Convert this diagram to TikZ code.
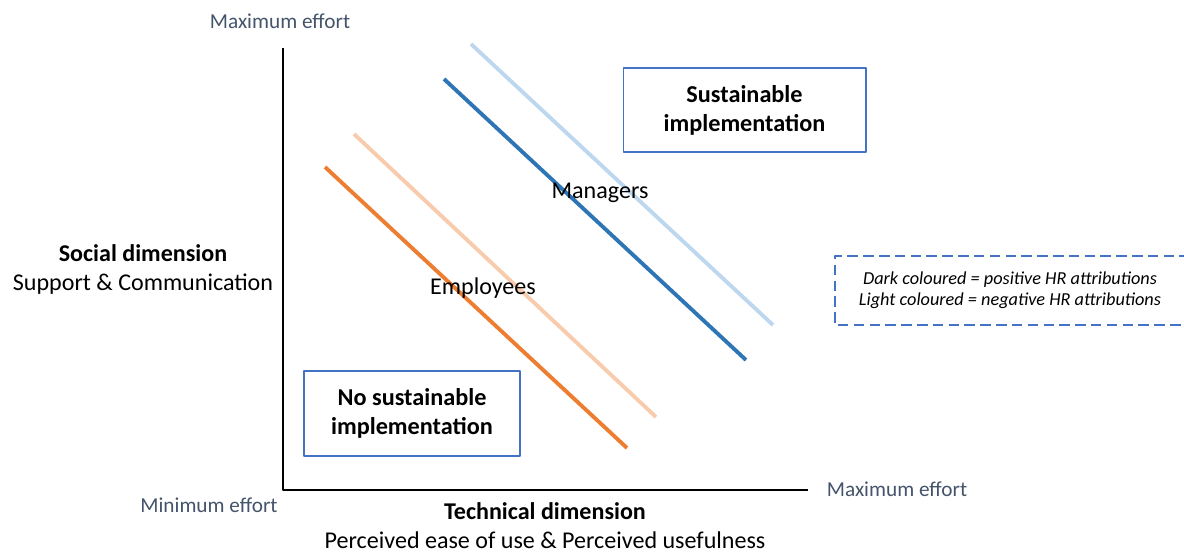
\documentclass[tikz,border=0pt]{standalone}
\usepackage{fontspec}
\setmainfont{Carlito}
\usepackage{xcolor}
\definecolor{mgrdark}{HTML}{2E75B6}
\definecolor{mgrlight}{HTML}{BDD7EE}
\definecolor{empdark}{HTML}{ED7D31}
\definecolor{emplight}{HTML}{F8CBAD}
\definecolor{boxblue}{HTML}{4472C4}
\definecolor{effortgray}{HTML}{44546A}
\tikzset{
  every picture/.style={line join=round, line cap=round},
  effort/.style={text=effortgray, font=\fontsize{12.1}{14}\selectfont},
  dimlabel/.style={align=center, font=\fontsize{13.7}{16.5}\selectfont},
  zonebox/.style={draw=boxblue, line width=0.6pt, align=center, inner sep=0pt,
    font=\fontsize{13.8}{16.5}\selectfont\bfseries},
  group/.style={line width=2.2pt, line cap=butt},
}

\begin{document}
\begin{tikzpicture}[x=0.02cm,y=-0.02cm]
\useasboundingbox(0,0)rectangle(1184,555);
% axes
\draw[line width=0.9pt,line cap=butt](283,48)--(283,490)--(808,490);
\node[effort](ymax)at(280,21){Maximum effort};
\node[effort](ymin)at(209,505){Minimum effort};
\node[effort](xmax)at(897,489){Maximum effort};
\node[dimlabel](social)at(143,269){\textbf{Social dimension}\\Support \& Communication};
\node[dimlabel,inner sep=0.5pt](technical)at(545,526){\textbf{Technical dimension}\\Perceived ease of use \& Perceived usefulness};
% managers and employees
\draw[group,mgrlight](471,44)--(773,325);
\draw[group,mgrdark](444,79)--(746,360);
\draw[group,emplight](354,134)--(656,417);
\draw[group,empdark](325,167)--(627,448);
\node[dimlabel](managers)at(600,193){Managers};
\node[dimlabel](employees)at(483,288){Employees};
% zones
\node[zonebox,minimum width=4.86cm,minimum height=1.68cm](sustain)at(744.5,110){Sustainable\\implementation};
\node[zonebox,minimum width=4.32cm,minimum height=1.7cm](nosustain)at(412,413.5){No sustainable\\implementation};
% legend
\draw[boxblue,line width=0.6pt,dash pattern=on 6pt off 3pt,line cap=butt](1190,256)--(835,256)--(835,325)--(1190,325);
\node[align=center,font=\fontsize{10.4}{12}\selectfont\itshape](legend)at(1010,290)
  {Dark coloured = positive HR attributions\\Light coloured = negative HR attributions};
\end{tikzpicture}
\end{document}
